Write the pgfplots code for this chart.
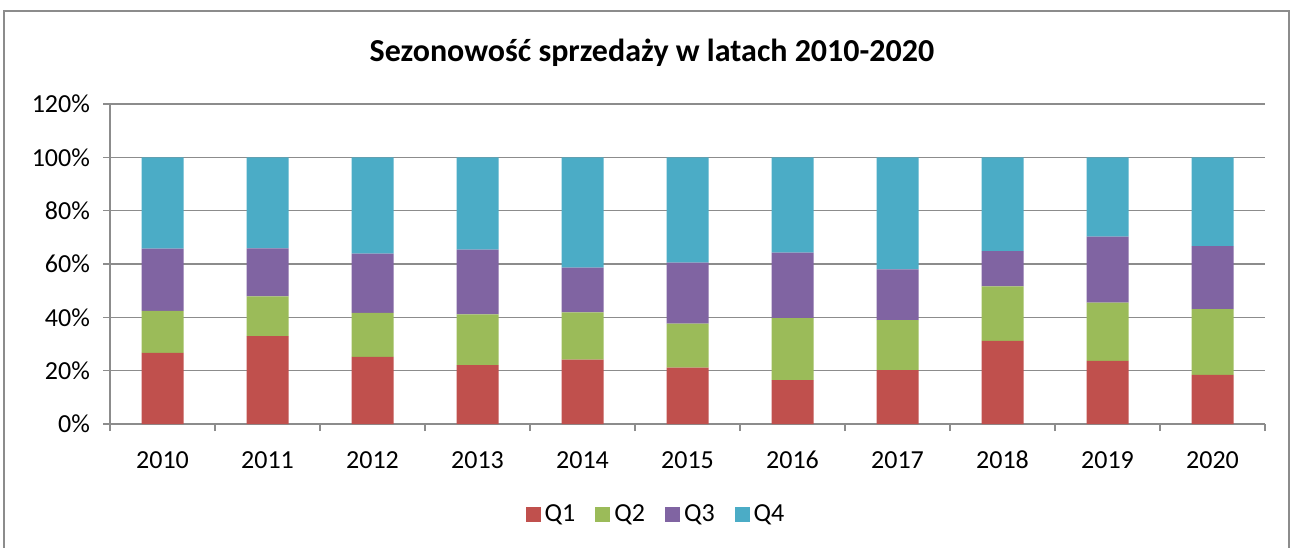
\documentclass[border=0pt]{standalone}
\usepackage{pgfplots}
\pgfplotsset{compat=1.18}
\usepackage{fontspec}
\setmainfont{Carlito}
\definecolor{cQ1}{HTML}{C0504D}
\definecolor{cQ2}{HTML}{9BBB59}
\definecolor{cQ3}{HTML}{8064A2}
\definecolor{cQ4}{HTML}{4BACC6}
\definecolor{gridc}{HTML}{8C8C8C}
\begin{document}
\begin{tikzpicture}[x=1pt,y=1pt]
\path[use as bounding box] (0,0) rectangle (646.5,273.5);
\draw[gridc, line width=0.6pt] (2,-1) rectangle (644.5,268);
\node[font=\fontsize{16}{19}\selectfont\bfseries] at (326,247) {Sezonowość sprzedaży w latach 2010-2020};
\begin{axis}[
  at={(55pt,61.5pt)}, anchor=south west,
  scale only axis, width=577.5pt, height=160pt,
  ybar stacked, bar width=21pt,
  xmin=-0.5, xmax=10.5, ymin=0, ymax=120,
  xtick={0,...,10},
  xticklabels={2010,2011,2012,2013,2014,2015,2016,2017,2018,2019,2020},
  minor xtick={-0.5,0.5,...,10.5},
  major x tick style={draw=none},
  minor tick length=3.5pt,
  ytick={0,20,...,120},
  yticklabel={\pgfmathprintnumber{\tick}\%},
  /pgf/number format/assume math mode=true,
  tick label style={font=\fontsize{13}{15}\selectfont},
  xticklabel style={anchor=north, yshift=-6pt, text height=9pt, text depth=0pt},
  yticklabel style={xshift=-3pt},
  axis x line=bottom, axis y line=left,
  axis line style={-, gridc, line width=0.75pt},
  tick style={gridc, line width=0.75pt},
  major tick length=3.5pt,
  tick align=outside,
  ymajorgrids, grid style={gridc, line width=0.75pt},
  legend style={at={(0.4736,-0.284)}, anchor=center, draw=none,
    legend columns=4, font=\fontsize{13}{15}\selectfont,
    /tikz/every even column/.append style={column sep=8pt}},
  legend image code/.code={\fill[#1] (0pt,-3.75pt) rectangle (7.5pt,3.75pt);},
]
\addplot[fill=cQ1, draw=none] coordinates {(0,26.7) (1,33.0) (2,25.2) (3,22.1) (4,24.1) (5,21.1) (6,16.5) (7,20.2) (8,31.2) (9,23.7) (10,18.4)};
\addplot[fill=cQ2, draw=none] coordinates {(0,15.7) (1,14.9) (2,16.5) (3,19.0) (4,17.8) (5,16.5) (6,23.2) (7,18.8) (8,20.4) (9,21.8) (10,24.7)};
\addplot[fill=cQ3, draw=none] coordinates {(0,23.4) (1,18.0) (2,22.2) (3,24.3) (4,16.7) (5,22.9) (6,24.6) (7,19.0) (8,13.2) (9,24.8) (10,23.6)};
\addplot[fill=cQ4, draw=none] coordinates {(0,34.2) (1,34.1) (2,36.1) (3,34.6) (4,41.4) (5,39.5) (6,35.7) (7,42.0) (8,35.2) (9,29.7) (10,33.3)};
\legend{Q1,Q2,Q3,Q4}
\end{axis}
\end{tikzpicture}
\end{document}
